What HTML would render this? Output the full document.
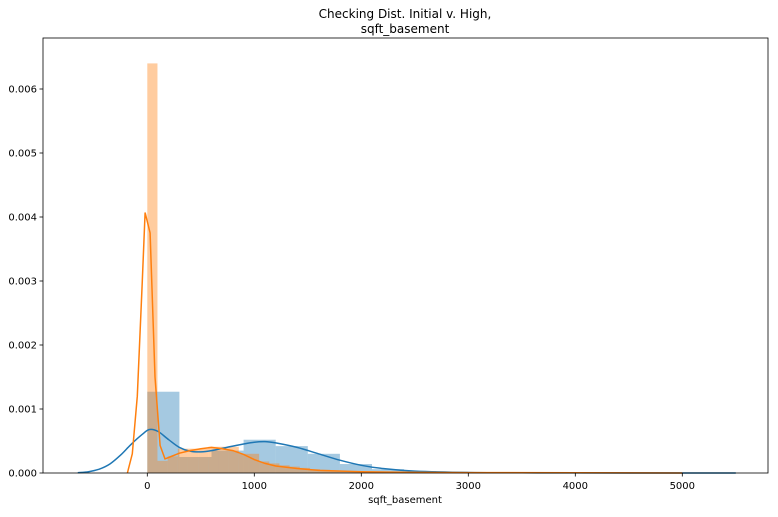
<!DOCTYPE html>
<html><head><meta charset="utf-8"><style>
body{margin:0;background:#fff;font-family:"Liberation Sans","DejaVu Sans",sans-serif;}
svg text{font-family:"DejaVu Sans","Liberation Sans",sans-serif;fill:#000;}
</style></head><body>
<svg id="chart" width="778" height="512" xmlns="http://www.w3.org/2000/svg">
<text x="405" y="18" font-size="12" text-anchor="middle">Checking Dist. Initial v. High,</text>
<text x="405" y="33" font-size="12" text-anchor="middle">sqft_basement</text>
<g id="bars"></g><g id="lines"></g><g id="axes"></g>
<text x="405" y="503" font-size="10" text-anchor="middle">sqft_basement</text>
</svg>
<script>
const blueBinWidth = 300;
const blueHeights = [0.00127,0.00025,0.00035,0.00052,0.00042,0.0003,0.00014,0.00006,0.00003,0.00002,0.00001,0.00001,0.000005,0.000005,0.000003,0.000003,0.000002];
const orangeBinWidth = 95;
const orangeHeights = [0.0064,0.00019,0.00026,0.00038,0.00038,0.00038,0.00041,0.00041,0.00041,0.0003,0.0003,0.00018,0.00015,0.00012,0.0001,0.00008,0.00006,0.00005,0.00004,0.00003,0.00003,0.00002,0.00002,0.00002,0.00002,0.00001,0.00001,0.00001,0.00001,0.00001];
const blueKdeX = [-650,-550,-450,-350,-250,-150,-50,20,100,200,300,400,500,600,800,1000,1100,1200,1400,1600,1800,2000,2200,2500,3000,3500,4000,5000,5500];
const blueKdeY = [0.000005,0.00002,0.00006,0.00014,0.00028,0.00045,0.0006,0.00068,0.00065,0.00052,0.0004,0.00034,0.00033,0.00035,0.00042,0.00048,0.00049,0.00047,0.0004,0.0003,0.0002,0.00012,0.00007,0.00003,0.000008,0.000003,0.000001,0.0000005,0];
const orangeKdeX = [-186,-140,-93,-47,-21,26,72,120,165,210,300,400,500,600,700,800,900,1000,1100,1200,1400,1600,2000,2500,3000,4000,5000];
const orangeKdeY = [0,0.0003,0.0012,0.003,0.00407,0.00375,0.0015,0.00043,0.00022,0.00025,0.00031,0.00035,0.00038,0.0004,0.00038,0.00035,0.00029,0.00021,0.00015,0.00011,0.00007,0.00004,0.00002,0.00001,0.000007,0.000003,0];
const xTicks = [0,1000,2000,3000,4000,5000];
const yTicks = [0,0.001,0.002,0.003,0.004,0.005,0.006];
const yTickLabels = ["0.000","0.001","0.002","0.003","0.004","0.005","0.006"];

const L=43,R=768,T=38,B=473;
const xs=v=>147.3+v*0.107;
const ys=v=>B-v*64000;
const NS="http://www.w3.org/2000/svg";
function mk(tag,parent,attrs){const e=document.createElementNS(NS,tag);for(const k in attrs)e.setAttribute(k,attrs[k]);parent.appendChild(e);return e;}
const bars=document.getElementById('bars'),lines=document.getElementById('lines'),axes=document.getElementById('axes');
blueHeights.forEach((h,i)=>{
  const r=mk('rect',bars,{x:xs(i*blueBinWidth),y:ys(h),width:xs((i+1)*blueBinWidth)-xs(i*blueBinWidth),height:B-ys(h),fill:'#1f77b4','fill-opacity':0.4});
  
  
});
orangeHeights.forEach((h,i)=>{
  const r=mk('rect',bars,{x:xs(i*orangeBinWidth),y:ys(h),width:xs((i+1)*orangeBinWidth)-xs(i*orangeBinWidth),height:B-ys(h),fill:'#ff7f0e','fill-opacity':0.4});
  
  
});
function line(xa,ya,color,name,smooth){
  const P=xa.map((x,i)=>[xs(x),ys(ya[i])]);
  let d='M'+P[0][0].toFixed(1)+','+P[0][1].toFixed(1);
  for(let i=0;i<P.length-1;i++){
    if(!smooth){d+='L'+P[i+1][0].toFixed(1)+','+P[i+1][1].toFixed(1);continue;}
    const p0=P[i-1]||P[i],p1=P[i],p2=P[i+1],p3=P[i+2]||P[i+1];
    const c1=[p1[0]+(p2[0]-p0[0])/6,p1[1]+(p2[1]-p0[1])/6],c2=[p2[0]-(p3[0]-p1[0])/6,p2[1]-(p3[1]-p1[1])/6];
    d+='C'+c1.map(v=>v.toFixed(1)).join(',')+' '+c2.map(v=>v.toFixed(1)).join(',')+' '+p2.map(v=>v.toFixed(1)).join(',');
  }
  const p=mk('path',lines,{d:d,fill:'none',stroke:color,'stroke-width':1.5});
  
  
}
line(blueKdeX,blueKdeY,'#1f77b4','blue-kde-line',true);
line(orangeKdeX,orangeKdeY,'#ff7f0e','orange-kde-line',false);
const frame=mk('rect',axes,{x:L,y:T,width:R-L,height:B-T,fill:'none',stroke:'#000','stroke-width':0.8});


xTicks.forEach(v=>{
  mk('line',axes,{x1:xs(v),x2:xs(v),y1:B,y2:B+3.5,stroke:'#000','stroke-width':0.8});
  const t=mk('text',axes,{x:xs(v),y:B+16,'font-size':10,'text-anchor':'middle'});
  t.textContent=v;
  
  
});
yTicks.forEach((v,i)=>{
  mk('line',axes,{x1:L-3.5,x2:L,y1:ys(v),y2:ys(v),stroke:'#000','stroke-width':0.8});
  const t=mk('text',axes,{x:L-6,y:ys(v)+3.5,'font-size':10,'text-anchor':'end'});
  t.textContent=yTickLabels[i];
  
  
});
</script>
</body></html>
